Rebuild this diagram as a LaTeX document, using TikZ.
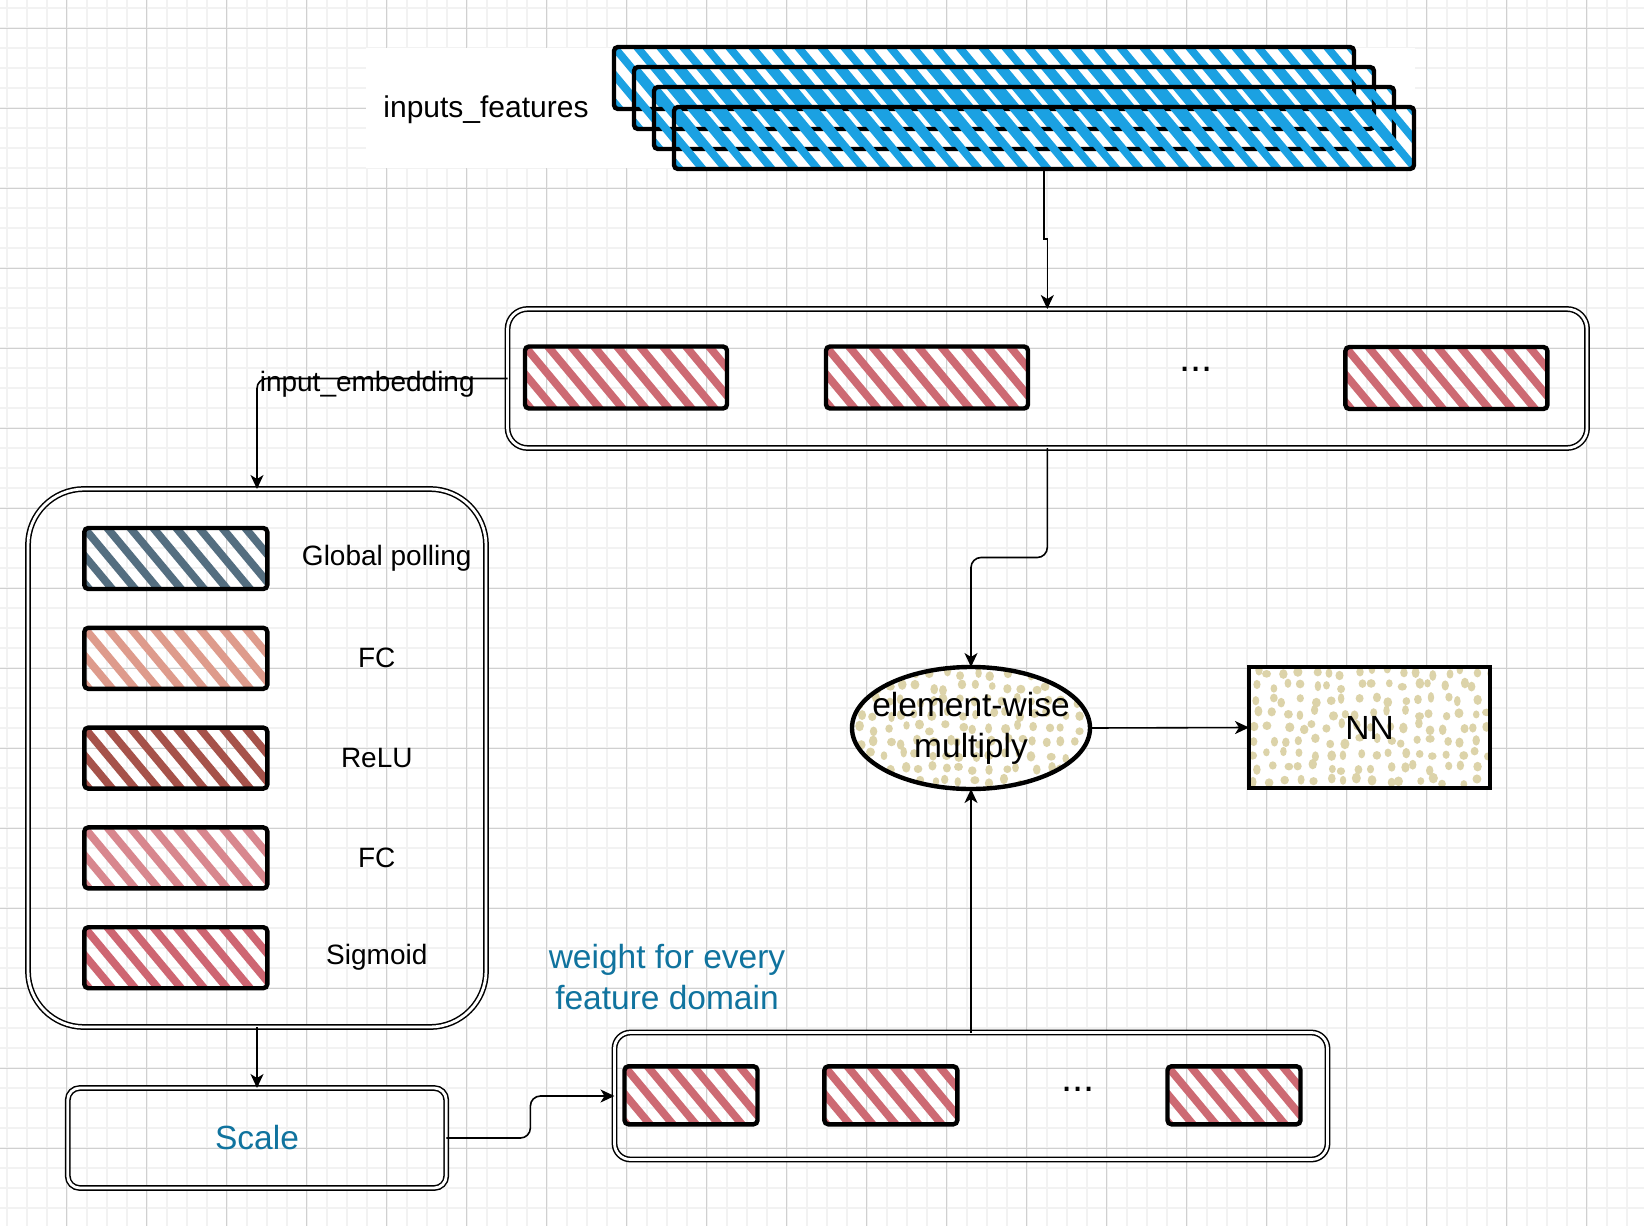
\documentclass[tikz,border=0pt]{standalone}
\usepackage{fontspec}
\setmainfont{Liberation Sans}
\usetikzlibrary{shapes.geometric,arrows.meta,calc,positioning}

\definecolor{gridminor}{HTML}{F2F2F2}
\definecolor{gridmajor}{HTML}{D0D0D0}
\definecolor{hblue}{HTML}{1BA1E2}
\definecolor{hred}{HTML}{CD6A73}
\definecolor{hslate}{HTML}{546E80}
\definecolor{hsalmon}{HTML}{DE9B8C}
\definecolor{hbrown}{HTML}{A6524A}
\definecolor{hpink}{HTML}{D8878E}
\definecolor{hsig}{HTML}{CE6672}
\definecolor{spot}{HTML}{DCD3A9}
\definecolor{txtblue}{HTML}{10739E}

\newcommand{\hatchfill}[1]{%
  \foreach \k in {-3,...,35}
    \draw[#1, line width=3.9pt, line cap=round]
      ([xshift=\k*11.5pt]path picture bounding box.north west) -- ++(30pt,-36pt);
}
\newcommand{\spotfill}[1]{%
  \pgfmathsetseed{#1}%
  \foreach \i in {0,...,16}
    \foreach \j in {0,...,8}{
      \pgfmathsetmacro\sx{\i*7.3+3.6+2.2*rand}
      \pgfmathsetmacro\sy{\j*6.8+3.4+1.8*rand}
      \pgfmathsetmacro\ra{1.6+0.7*rnd}
      \pgfmathsetmacro\rb{1.9+0.8*rnd}
      \fill[spot] ([shift={(\sx pt,\sy pt)}]path picture bounding box.south west)
        ellipse[x radius=\ra pt, y radius=\rb pt];
    }
}

\tikzset{
	conn/.style={-{Stealth[length=7pt,width=6.5pt,inset=2pt]}, line width=0.8pt},
	vhv/.style={to path={|- ($(\tikztostart)!0.5!(\tikztotarget)$) -| (\tikztotarget) \tikztonodes}},
	hvh/.style={to path={-| ($(\tikztostart)!0.5!(\tikztotarget)$) |- (\tikztotarget) \tikztonodes}},
	hv/.style={to path={-| (\tikztotarget) \tikztonodes}},
	sketch/.style={draw, line width=2.2pt, rounded corners=2pt, inner sep=0pt, outer sep=0pt},
	stack/.style={sketch, minimum width=370pt, minimum height=31pt, path picture={\hatchfill{hblue}}},
	emb/.style={sketch, minimum width=101pt, minimum height=31pt, path picture={\hatchfill{hred}}},
	wgt/.style={sketch, minimum width=66.5pt, minimum height=29pt, path picture={\hatchfill{hred}}},
	layer/.style={sketch, minimum width=91.5pt, minimum height=30.5pt, path picture={\hatchfill{#1}}},
	spotted/.style={sketch, fill=white, path picture={\spotfill{#1}}},
	frame/.style={draw, double, line width=0.75pt, double distance=1.4pt, inner sep=0pt, outer sep=0pt},
	lbl/.style={font=\fontsize{14pt}{17pt}\selectfont},
	big/.style={font=\fontsize{16.75pt}{20.5pt}\selectfont},
	node distance=19.4pt
}

\begin{document}
\begin{tikzpicture}[x=0.5pt,y=-0.5pt]

    \useasboundingbox (0,0) rectangle (1644,1226);

    % paper grid
    \foreach \gx in {6.7,26.7,...,1646} \draw[gridminor, line width=1pt] (\gx,0) -- (\gx,1226);
    \foreach \gy in {8.3,28.3,...,1230} \draw[gridminor, line width=1pt] (0,\gy) -- (1644,\gy);
    \foreach \gx in {66.7,146.7,...,1646} \draw[gridmajor, line width=0.5pt] (\gx,0) -- (\gx,1226);
    \foreach \gy in {28.3,108.3,...,1230} \draw[gridmajor, line width=0.5pt] (0,\gy) -- (1644,\gy);

    % inputs
    \fill[white] (366,48) rectangle (1415,168);
    \node[font=\fontsize{15pt}{18pt}\selectfont] (feat) at (486,110) {inputs\_features};
    \node[stack] (s1) at (984,78) {};
    \node[stack] (s2) at (1004,98) {};
    \node[stack] (s3) at (1024,118) {};
    \node[stack] (s4) at (1044,138) {};

    % embedding
    \node[frame, rounded corners=10pt, minimum width=539.75pt, minimum height=69.5pt] (embed) at (1047.3,378.5) {};
    \node[emb] (e1) at (626,377.5) {};
    \node[emb] (e2) at (927,377.5) {};
    \node[font=\fontsize{20pt}{24pt}\selectfont] (edots) at (1196,369) {...};
    \node[emb] (e3) at (1446.4,378) {};

    % squeeze block
    \node[frame, rounded corners=28pt, minimum width=229pt, minimum height=269pt] (se) at (257,758) {};
    \node[layer=hslate] (l1) at (175.8,558.5) {};
    \node[layer=hsalmon, below=of l1] (l2) {};
    \node[layer=hbrown, below=of l2] (l3) {};
    \node[layer=hpink, below=of l3] (l4) {};
    \node[layer=hsig, below=of l4] (l5) {};
    \node[lbl] (t1) at ($(l1)+(211,0)$) {Global polling};
    \node[lbl] (t2) at ($(l2)+(201,0)$) {FC};
    \node[lbl] (t3) at ($(l3)+(201,0)$) {ReLU};
    \node[lbl] (t4) at ($(l4)+(201,0)$) {FC};
    \node[lbl] (t5) at ($(l5)+(201,0)$) {Sigmoid};

    % scale and weights
    \node[frame, rounded corners=6pt, minimum width=189.25pt, minimum height=50pt, big, text=txtblue] (scale) at (257,1138) {Scale};
    \node[frame, rounded corners=8pt, minimum width=356.5pt, minimum height=63.5pt] (wts) at (971,1096) {};
    \node[wgt] (w1) at (691,1095.3) {};
    \node[wgt] (w2) at (890.8,1095.3) {};
    \node[font=\fontsize{20pt}{24pt}\selectfont] (wdots) at (1078,1089) {...};
    \node[wgt] (w3) at (1234,1095.3) {};
    \node[big, text=txtblue, align=center] (wtxt) at (667,977) {weight for every\\feature domain};

    % multiply and NN
    \node[ellipse, spotted=3, minimum width=119pt, minimum height=61pt] (mul) at (971,728) {};
    \node[big, align=center] (multxt) at (mul) {element-wise\\multiply};
    \node[rectangle, spotted=9, rounded corners=0pt, minimum width=120.5pt, minimum height=60.5pt, big] (nn) at (1369.5,727.5) {NN};

    \path (s4.south) edge[conn, vhv] (embed.north);
    \path (embed.south) edge[conn, vhv, rounded corners=5pt] (mul.north);
    \path (embed.west) edge[conn, hv, rounded corners=5pt] node[lbl, pos=0.28, yshift=-3pt] (embl) {input\_embedding} (se.north);
    \path (se.south) edge[conn] (scale.north);
    \path (scale.east) edge[conn, hvh, rounded corners=5pt] (wts.west);
    \path (wts.north) edge[conn] (mul.south);
    \path (mul.east) edge[conn] (nn.west);

\end{tikzpicture}
\end{document}
